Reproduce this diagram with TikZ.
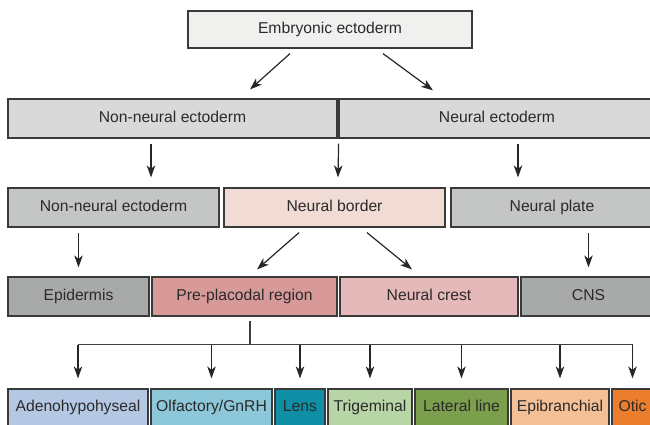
\documentclass[tikz,border=0pt]{standalone}
\usepackage{fontspec}
\setmainfont{Liberation Sans}
\usetikzlibrary{calc,arrows.meta}
\definecolor{txt}{HTML}{2A2A2A}
\definecolor{edge}{HTML}{3A3A3A}
\definecolor{cEmb}{HTML}{F0F1EF}
\definecolor{cRowTwo}{HTML}{D8D9D8}
\definecolor{cGrayThree}{HTML}{C4C6C5}
\definecolor{cBorder}{HTML}{F1DBD5}
\definecolor{cGrayFour}{HTML}{A8AAA9}
\definecolor{cPPR}{HTML}{D89A99}
\definecolor{cNC}{HTML}{E5B8BA}
\definecolor{cAdeno}{HTML}{B4C8E4}
\definecolor{cOlf}{HTML}{8DC8DA}
\definecolor{cLens}{HTML}{0F8FA6}
\definecolor{cTrig}{HTML}{B8D5A6}
\definecolor{cLat}{HTML}{7B9F4C}
\definecolor{cEpib}{HTML}{F5C096}
\definecolor{cOtic}{HTML}{EC7D2C}
\tikzset{
  cellbox/.style={draw=edge, line width=1.2pt, rectangle, inner sep=0pt, text=txt,
    text height=11.3pt, text depth=3.3pt,
    font=\fontsize{15.7pt}{18pt}\selectfont},
  arr/.style={draw=black!85, line width=1.2pt, -{Stealth[length=12pt,width=8.5pt,inset=3.5pt]}},
  plainline/.style={draw=black!75, line width=1.2pt}
}
\begin{document}
\begin{tikzpicture}[x=1pt,y=-1pt]
\useasboundingbox (0,0) rectangle (650,424);
% row 1
\node[cellbox, fill=cEmb, minimum width=284pt, minimum height=37pt] (emb) at (330,29.5) {Embryonic ectoderm};
% row 2
\node[cellbox, fill=cRowTwo, minimum width=329pt, minimum height=39pt] (nneA) at (172.5,118.5) {Non-neural ectoderm};
\node[cellbox, fill=cRowTwo, minimum width=316pt, minimum height=39pt] (neA) at (497,118.5) {Neural ectoderm};
% row 3
\node[cellbox, fill=cGrayThree, minimum width=211pt, minimum height=39pt] (nneB) at (113.5,207.5) {Non-neural ectoderm};
\node[cellbox, fill=cBorder, minimum width=221pt, minimum height=39pt] (border) at (334.5,207.5) {Neural border};
\node[cellbox, fill=cGrayThree, minimum width=202pt, minimum height=39pt] (plate) at (552,207.5) {Neural plate};
% row 4
\node[cellbox, fill=cGrayFour, minimum width=141pt, minimum height=39pt] (epi) at (78.5,296.5) {Epidermis};
\node[cellbox, fill=cPPR, minimum width=185pt, minimum height=39pt] (ppr) at (244.5,296.5) {Pre-placodal region};
\node[cellbox, fill=cNC, minimum width=178pt, minimum height=39pt] (nc) at (429,296.5) {Neural crest};
\node[cellbox, fill=cGrayFour, minimum width=135pt, minimum height=39pt] (cns) at (588.5,296.5) {CNS};
% row 5
\node[cellbox, fill=cAdeno, minimum width=140pt, minimum height=37pt] (adeno) at (78,407.5) {Adenohypohyseal};
\node[cellbox, fill=cOlf, minimum width=121pt, minimum height=37pt] (olf) at (211.5,407.5) {Olfactory/GnRH};
\node[cellbox, fill=cLens, minimum width=50pt, minimum height=37pt] (lens) at (300,407.5) {Lens};
\node[cellbox, fill=cTrig, minimum width=84pt, minimum height=37pt] (trig) at (370,407.5) {Trigeminal};
\node[cellbox, fill=cLat, minimum width=93pt, minimum height=37pt] (lat) at (461.5,407.5) {Lateral line};
\node[cellbox, fill=cEpib, minimum width=98pt, minimum height=37pt] (epib) at (560,407.5) {Epibranchial};
\node[cellbox, fill=cOtic, minimum width=41pt, minimum height=37pt] (otic) at (632.5,407.5) {Otic};
% arrows row1 -> row2
\draw[arr] ($(emb.south)+(-40,5)$) -- ($(nneA.north)+(77.5,-9)$);
\draw[arr] ($(emb.south)+(53,5)$) -- ($(neA.north)+(-64,-8)$);
% row2 -> row3
\draw[arr] ($(nneA.south)+(-21.5,5)$) -- ($(nneB.north)+(37.5,-10)$);
\draw[arr] ($(nneA.south east)+(1,5)$) -- ($(border.north)+(3.5,-10)$);
\draw[arr] ($(neA.south)+(21,5)$) -- ($(plate.north)+(-34,-10)$);
% row3 -> row4
\draw[arr] ($(epi.north |- nneB.south)+(0,5)$) -- ($(epi.north)+(0,-9)$);
\draw[arr] ($(border.south)+(-35.5,5)$) -- ($(ppr.north)+(12.5,-7)$);
\draw[arr] ($(border.south)+(32.5,5)$) -- ($(nc.north)+(-17,-7)$);
\draw[arr] ($(cns.north |- plate.south)+(0,5)$) -- ($(cns.north)+(0,-9)$);
% tree from pre-placodal region
\coordinate (hub) at ($(ppr.south)+(5.5,28)$);
\draw[plainline] ($(ppr.south)+(5.5,4)$) -- (hub);
\draw[plainline] (adeno.north |- hub) -- (otic.north |- hub);
\foreach \c in {adeno,olf,lens,trig,lat,epib,otic}{
  \draw[arr] (\c.north |- hub) -- ($(\c.north)+(0,-10)$);
}
\end{tikzpicture}
\end{document}
